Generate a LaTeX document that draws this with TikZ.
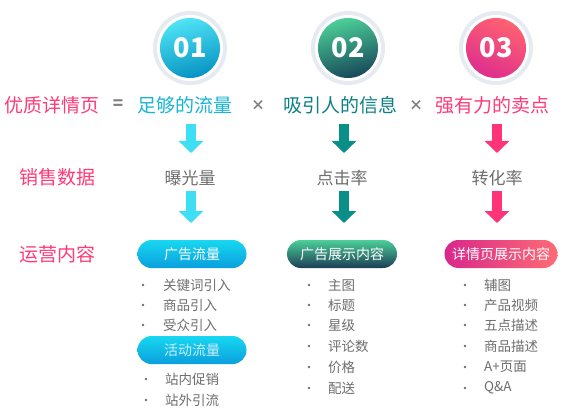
\documentclass[tikz,border=0pt]{standalone}
\usepackage{fontspec}
\setmainfont{Noto Sans CJK SC}
\usetikzlibrary{arrows.meta}
\definecolor{pinkred}{HTML}{FF3A78}
\definecolor{cyantxt}{HTML}{17B5D6}
\definecolor{tealtxt}{HTML}{0D7F86}
\definecolor{graytxt}{HTML}{6E6E6E}
\definecolor{opgray}{HTML}{808080}
\definecolor{halo}{HTML}{E6EBF2}
\definecolor{arrcyan}{HTML}{3EDFF4}
\definecolor{arrteal}{HTML}{0A8F88}
\definecolor{arrpink}{HTML}{FF3478}
\definecolor{cyanhi}{HTML}{4FE4F6}
\definecolor{cyanlo}{HTML}{0793C2}
\definecolor{tealhi}{HTML}{4CCF98}
\definecolor{tealmid}{HTML}{0F8B84}
\definecolor{teallo}{HTML}{17485A}
\definecolor{pinkhi}{HTML}{FF6270}
\definecolor{pinklo}{HTML}{DE2E8E}
\definecolor{pillcyanhi}{HTML}{17D8F0}
\definecolor{pillcyanlo}{HTML}{0A9FDE}
\definecolor{pillteallo}{HTML}{1C3D56}
\definecolor{pillmag}{HTML}{D8288C}
\definecolor{pillrose}{HTML}{FE6C74}
\newcommand{\fs}[1]{\fontsize{#1}{#1}\selectfont}

\begin{document}
\begin{tikzpicture}[x=1pt,y=-1pt,
  txt/.style={inner sep=0pt},
  numdot/.style={circle,minimum size=60pt,inner sep=0pt,text=white,font=\fs{27}\bfseries},
  pill/.style={rounded corners=14pt,minimum width=109pt,minimum height=28pt,inner sep=0pt,text=white,font=\fs{14}},
  item/.style={anchor=west,inner sep=0pt,text=graytxt,font=\fs{13.5}},
  blockarr/.style={line width=10pt,-{Triangle[width=24pt,length=12pt]}}]
\useasboundingbox (0,0) rectangle (585,414);
\fill[white] (0,0) rectangle (585,414);

\foreach \cx in {190,348,496}{
  \fill[halo] (\cx,48) circle(37pt);
  \fill[white] (\cx,48) circle(33pt);
}
\node[numdot,top color=cyanhi,bottom color=cyanlo,shading angle=15] (c1) at (190,48) {01};
\node[numdot,top color=tealhi,middle color=tealmid,bottom color=teallo,shading angle=15] (c2) at (348,48) {02};
\node[numdot,top color=pinkhi,bottom color=pinklo,shading angle=-25] (c3) at (496,48) {03};

\node[txt,text=pinkred,font=\fs{19}] (qd) at (52,105) {优质详情页};
\node[txt,text=opgray,font=\fs{17}\bfseries] (eq) at (118,105) {=};
\node[txt,text=cyantxt,font=\fs{19}] (f1) at (185,105) {足够的流量};
\node[txt,text=opgray,font=\fs{14}\bfseries] (x1) at (258,105) {×};
\node[txt,text=tealtxt,font=\fs{19}] (f2) at (340,105) {吸引人的信息};
\node[txt,text=opgray,font=\fs{14}\bfseries] (x2) at (416,105) {×};
\node[txt,text=pinkred,font=\fs{19}] (f3) at (492,105) {强有力的卖点};

\node[txt,text=pinkred,font=\fs{19}] (xs) at (57,177) {销售数据};
\node[txt,text=graytxt,font=\fs{17}] (v1) at (190,178) {曝光量};
\node[txt,text=graytxt,font=\fs{17}] (v2) at (342,178) {点击率};
\node[txt,text=graytxt,font=\fs{17}] (v3) at (497,178) {转化率};

\node[txt,text=pinkred,font=\fs{19}] (yy) at (57,254) {运营内容};

\coordinate (a1s) at (191,124); \coordinate (a1e) at (191,153);
\coordinate (a2s) at (344,124); \coordinate (a2e) at (344,153);
\coordinate (a3s) at (497,124); \coordinate (a3e) at (497,153);
\coordinate (b1s) at (191,191); \coordinate (b1e) at (191,223);
\coordinate (b2s) at (344,191); \coordinate (b2e) at (344,223);
\coordinate (b3s) at (497,191); \coordinate (b3e) at (497,223);
\draw[blockarr,arrcyan] (a1s) -- (a1e);
\draw[blockarr,arrcyan] (b1s) -- (b1e);
\draw[blockarr,arrteal] (a2s) -- (a2e);
\draw[blockarr,arrteal] (b2s) -- (b2e);
\draw[blockarr,arrpink] (a3s) -- (a3e);
\draw[blockarr,arrpink] (b3s) -- (b3e);

\node[pill,top color=pillcyanhi,bottom color=pillcyanlo] (p1) at (192,254) {广告流量};
\node[pill,minimum width=110pt,top color=tealhi,middle color=tealmid,bottom color=pillteallo] (p2) at (342,254) {广告展示内容};
\node[pill,minimum width=113pt,left color=pillmag,right color=pillrose] (p3) at (501,254) {详情页展示内容};
\node[pill,top color=pillcyanhi,bottom color=pillcyanlo,text=cyan!20!white] (p4) at (192,350) {活动流量};

\foreach \yy/\tt in {285/关键词引入,305/商品引入,325/受众引入}{
  \fill[graytxt] (143,\yy) circle(1.3pt);
  \node[item] at (163,\yy) {\tt};
}
\foreach \yy/\tt in {379/站内促销,400/站外引流}{
  \fill[graytxt] (146,\yy) circle(1.3pt);
  \node[item] at (165,\yy) {\tt};
}
\foreach \yy/\tt in {285/主图,305/标题,325/星级,346/评论数,367/价格,388/配送}{
  \fill[graytxt] (309,\yy) circle(1.3pt);
  \node[item] at (328,\yy) {\tt};
}
\foreach \yy/\tt in {285/辅图,305/产品视频,325/五点描述,346/商品描述,367/A+页面,388/Q\&A}{
  \fill[graytxt] (465,\yy) circle(1.3pt);
  \node[item] at (484,\yy) {\tt};
}
\end{tikzpicture}
\end{document}
